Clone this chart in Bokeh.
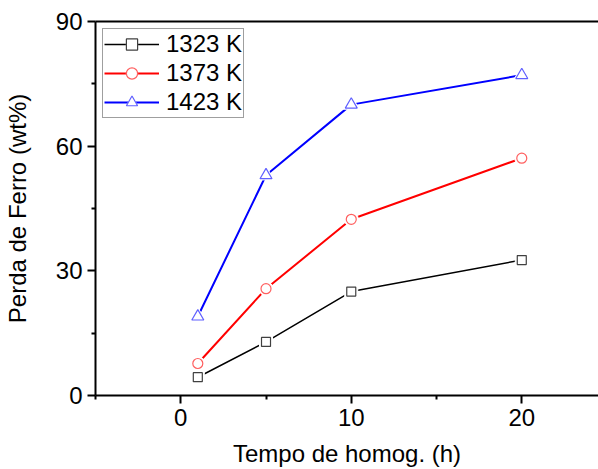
from bokeh.plotting import figure
from bokeh.models import Range1d, LinearAxis, Legend, LegendItem, FixedTicker
from bokeh.embed import file_html
from bokeh.resources import INLINE

# Data
x_hours = [1, 5, 10, 20]
y_1323 = [4.4, 12.9, 25.0, 32.6]
y_1373 = [7.7, 25.7, 42.4, 57.1]
y_1423 = [19.0, 53.0, 70.0, 77.1]
labels = ["1323 K", "1373 K", "1423 K"]
x_ticks = [0, 10, 20]
y_ticks = [0, 30, 60, 90]

FONT = "Liberation Sans"

p = figure(width=598, height=469, output_backend="svg", toolbar_location=None,
           x_range=Range1d(-5, 24.5), y_range=Range1d(0, 90),
           min_border_left=95, min_border_right=0, min_border_top=21, min_border_bottom=73)
p.outline_line_color = None
p.xgrid.visible = False
p.ygrid.visible = False
p.background_fill_color = "white"
p.border_fill_color = "white"

for ax in (p.xaxis[0], p.yaxis[0]):
    ax.axis_line_width = 2
    ax.axis_line_color = "black"
    ax.major_tick_line_width = 2
    ax.minor_tick_line_width = 2
    ax.major_tick_in = 0
    ax.major_tick_out = 8
    ax.minor_tick_in = 0
    ax.minor_tick_out = 4
    ax.major_label_text_font = FONT
    ax.major_label_text_font_size = "24px"
    ax.major_label_text_color = "black"
    ax.axis_label_text_font = FONT
    ax.axis_label_text_font_size = "24px"
    ax.axis_label_text_font_style = "normal"
    ax.axis_label_text_color = "black"

p.xaxis[0].ticker = FixedTicker(ticks=x_ticks, minor_ticks=[-5, 5, 15, 25])
p.yaxis[0].ticker = FixedTicker(ticks=y_ticks, minor_ticks=[15, 45, 75])
p.xaxis[0].axis_label = "Tempo de homog. (h)"
p.yaxis[0].axis_label = "Perda de Ferro (wt%)"
p.xaxis[0].major_label_standoff = 5
p.yaxis[0].major_label_standoff = 5
p.xaxis[0].axis_label_standoff = 11
p.yaxis[0].axis_label_standoff = 22

top = LinearAxis(axis_line_width=2, axis_line_color="black",
                 ticker=FixedTicker(ticks=[], minor_ticks=[]),
                 major_tick_line_color=None, minor_tick_line_color=None,
                 major_label_standoff=0, major_tick_out=0, minor_tick_out=0)
p.add_layout(top, "above")

series = [
    (y_1323, "black", "#404040", "square", 9, 1.5),
    (y_1373, "#ff0000", "#ff6060", "circle", 10, 2),
    (y_1423, "#0000ff", "#6060ff", "triangle", 12, 2),
]
items = []
for (ys, lc, mc, mk, sz, lw), lab in zip(series, labels):
    r1 = p.line(x_hours, ys, line_color=lc, line_width=lw)
    r2 = p.scatter(x_hours, ys, marker=mk, size=sz + 4, fill_color="white", line_color="white", line_width=1)
    r3 = p.scatter(x_hours, ys, marker=mk, size=sz, fill_color="white", line_color=mc, line_width=1.2)
    items.append(LegendItem(label=lab, renderers=[r1, r2, r3]))

legend = Legend(items=items, location="top_left", margin=7,
                label_text_font=FONT, label_text_font_size="24px", label_text_color="black",
                glyph_width=55, glyph_height=28, label_height=28, spacing=1,
                label_standoff=7, padding=1,
                border_line_color="#404040", border_line_width=1.2,
                background_fill_color="white", background_fill_alpha=1)
p.add_layout(legend, "center")

open("out.html", "w").write(file_html(p, INLINE))
